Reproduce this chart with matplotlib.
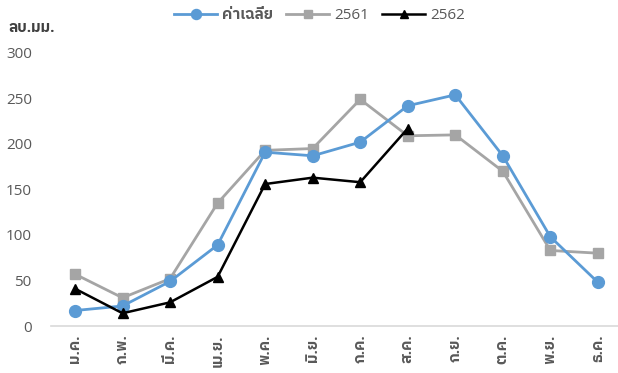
import matplotlib
matplotlib.use("Agg")
import matplotlib.pyplot as plt

months = ["ม.ค.", "ก.พ.", "มี.ค.", "เม.ย.", "พ.ค.", "มิ.ย.",
          "ก.ค.", "ส.ค.", "ก.ย.", "ต.ค.", "พ.ย.", "ธ.ค."]
average = [17, 22, 49, 89, 191, 187, 202, 242, 254, 187, 98, 48]
y2561 = [57, 31, 52, 135, 193, 195, 249, 209, 210, 170, 83, 80]
y2562 = [41, 14, 26, 54, 156, 163, 158, 217]
yticks = [0, 50, 100, 150, 200, 250, 300]

FONT = ["Open Sans", "IBM Plex Sans Thai", "DejaVu Sans"]
plt.rcParams["font.family"] = FONT
TXT = "#595959"

fig = plt.figure(figsize=(6.18, 3.73), dpi=100)
ax = fig.add_axes([0.0829, 0.126, 0.923, 0.732])

x = list(range(len(months)))
ax.plot(x, average, color="#5B9BD5", lw=2.0, marker="o", ms=8.5, zorder=3,
        label="ค่าเฉลี่ย")
ax.plot(x, y2561, color="#A5A5A5", lw=2.0, marker="s", ms=7, zorder=2,
        label="2561")
ax.plot(x[:len(y2562)], y2562, color="black", lw=1.8, marker="^", ms=7.5,
        zorder=4, label="2562")

ax.set_xlim(-0.5, len(months) - 0.5)
ax.set_ylim(0, 300)
ax.set_yticks(yticks)
ax.set_xticks(x)
ax.set_xticklabels(months, rotation=90, fontsize=11, color=TXT,
                   fontweight="bold")
ax.tick_params(axis="y", labelsize=11, colors=TXT, length=0, pad=14)
ax.tick_params(axis="x", length=0, pad=6)
for s in ["top", "right", "left"]:
    ax.spines[s].set_visible(False)
ax.spines["bottom"].set_color("#D9D9D9")
ax.spines["bottom"].set_linewidth(1.2)

fig.text(0.013, 0.925, "ลบ.มม.", fontsize=11, color="#404040",
         fontweight="bold", va="center", ha="left")

leg = fig.legend(loc="center", bbox_to_anchor=(0.517, 0.958), ncol=3,
                 frameon=False, fontsize=11, handlelength=2.8,
                 columnspacing=0.9, handletextpad=0.3, markerscale=0.85)
for t in leg.get_texts():
    t.set_color(TXT)
leg.get_texts()[0].set_fontweight("bold")

fig.savefig("out.png")
